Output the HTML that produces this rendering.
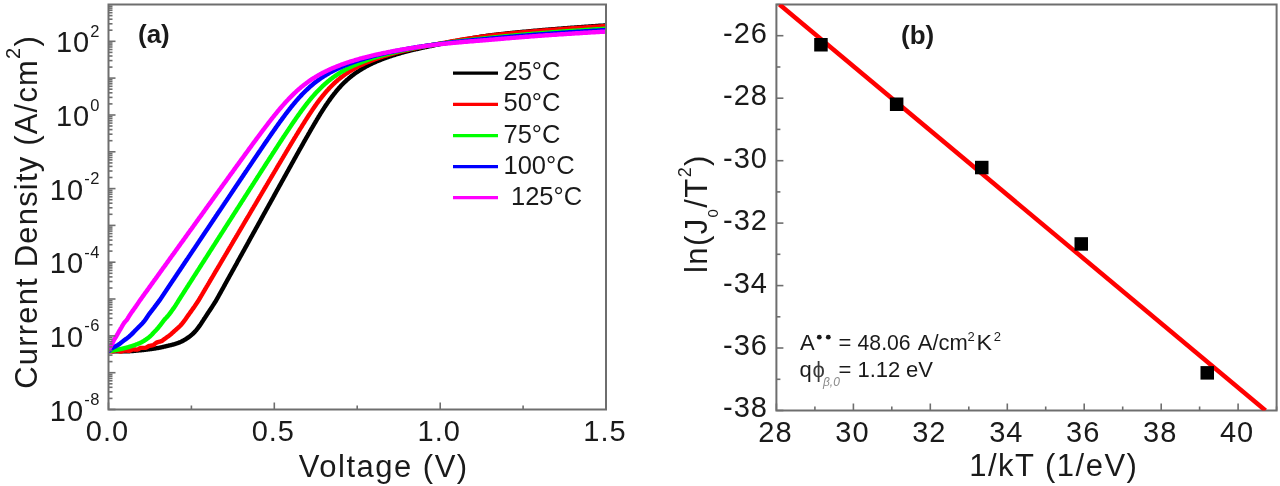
<!DOCTYPE html>
<html><head><meta charset="utf-8"><style>
html,body{margin:0;padding:0;background:#fff;}
svg{display:block;filter:blur(0.7px);}
text{font-family:'Liberation Sans',sans-serif;fill:#1a1a1a;}
</style></head><body>
<svg width="1280" height="486" viewBox="0 0 1280 486">
<rect width="1280" height="486" fill="#fff"/>
<defs><clipPath id="ca"><rect x="108.5" y="4.5" width="497.5" height="405.0"/></clipPath>
<clipPath id="cb"><rect x="776.4" y="4.5" width="500.19999999999993" height="406.0"/></clipPath></defs>
<g fill="none" stroke-width="4.4" stroke-linejoin="round" stroke-linecap="round" clip-path="url(#ca)"><path d="M109.0,351.0 L109.5,351.0 L110.0,351.1 L110.5,351.1 L111.0,351.1 L111.5,351.1 L112.0,351.1 L112.5,351.2 L113.0,351.2 L113.5,351.2 L114.0,351.2 L114.5,351.2 L115.0,351.3 L115.5,351.3 L116.0,351.3 L116.5,351.3 L117.0,351.3 L117.5,351.3 L118.0,351.3 L118.5,351.3 L119.0,351.3 L119.5,351.3 L120.0,351.3 L120.5,351.3 L121.0,351.3 L121.5,351.3 L122.0,351.3 L122.5,351.3 L123.0,351.3 L123.5,351.3 L124.0,351.3 L124.5,351.3 L125.0,351.3 L125.5,351.2 L126.0,351.2 L126.5,351.2 L127.0,351.2 L127.5,351.2 L128.0,351.2 L128.5,351.2 L129.0,351.2 L129.5,351.2 L130.0,351.2 L130.5,351.1 L131.0,351.1 L131.5,351.1 L132.0,351.0 L132.5,351.0 L133.0,351.0 L133.5,350.9 L134.0,350.9 L134.5,350.8 L135.0,350.8 L135.5,350.7 L136.0,350.7 L136.5,350.6 L137.0,350.6 L137.5,350.5 L138.0,350.5 L138.5,350.4 L139.0,350.4 L139.5,350.4 L140.0,350.3 L140.5,350.3 L141.0,350.2 L141.5,350.2 L142.0,350.1 L142.5,350.1 L143.0,350.0 L143.5,350.0 L144.0,349.9 L144.5,349.9 L145.0,349.8 L145.5,349.7 L146.0,349.7 L146.5,349.6 L147.0,349.6 L147.5,349.5 L148.0,349.4 L148.5,349.4 L149.0,349.3 L149.5,349.3 L150.0,349.2 L150.5,349.1 L151.0,349.1 L151.5,349.0 L152.0,348.9 L152.5,348.9 L153.0,348.8 L153.5,348.7 L154.0,348.6 L154.5,348.6 L155.0,348.5 L155.5,348.4 L156.0,348.3 L156.5,348.2 L157.0,348.1 L157.5,348.1 L158.0,348.0 L158.5,347.9 L159.0,347.8 L159.5,347.7 L160.0,347.6 L160.5,347.5 L161.0,347.4 L161.5,347.3 L162.0,347.2 L162.5,347.1 L163.0,347.0 L163.5,346.8 L164.0,346.7 L164.5,346.6 L165.0,346.5 L165.5,346.4 L166.0,346.2 L166.5,346.1 L167.0,346.0 L167.5,345.9 L168.0,345.8 L168.5,345.7 L169.0,345.5 L169.5,345.4 L170.0,345.3 L170.5,345.2 L171.0,345.1 L171.5,345.0 L172.0,344.8 L172.5,344.7 L173.0,344.6 L173.5,344.4 L174.0,344.3 L174.5,344.2 L175.0,344.0 L175.5,343.8 L176.0,343.7 L176.5,343.5 L177.0,343.3 L177.5,343.2 L178.0,343.0 L178.5,342.8 L179.0,342.6 L179.5,342.4 L180.0,342.2 L180.5,342.0 L181.0,341.8 L181.5,341.5 L182.0,341.3 L182.5,341.0 L183.0,340.7 L183.5,340.5 L184.0,340.2 L184.5,339.9 L185.0,339.6 L185.5,339.3 L186.0,339.0 L186.5,338.7 L187.0,338.4 L187.5,338.0 L188.0,337.7 L188.5,337.3 L189.0,337.0 L189.5,336.6 L190.0,336.2 L190.5,335.8 L191.0,335.4 L191.5,335.0 L192.0,334.5 L192.5,334.1 L193.0,333.6 L193.5,333.1 L194.0,332.6 L194.5,332.1 L195.0,331.6 L195.5,331.0 L196.0,330.5 L196.5,329.9 L197.0,329.2 L197.5,328.6 L198.0,328.0 L198.5,327.3 L199.0,326.6 L199.5,325.9 L200.0,325.2 L200.5,324.5 L201.0,323.7 L201.5,323.0 L202.0,322.2 L202.5,321.4 L203.0,320.7 L203.5,319.9 L204.0,319.1 L204.5,318.4 L205.0,317.6 L205.5,316.8 L206.0,316.1 L206.5,315.3 L207.0,314.5 L207.5,313.8 L208.0,313.0 L208.5,312.2 L209.0,311.5 L209.5,310.8 L210.0,310.0 L210.5,309.3 L211.0,308.5 L211.5,307.7 L212.0,307.0 L212.5,306.2 L213.0,305.4 L213.5,304.6 L214.0,303.8 L214.5,303.0 L215.0,302.3 L215.5,301.5 L216.0,300.7 L216.5,299.8 L217.0,298.9 L217.5,298.0 L218.0,297.1 L218.5,296.2 L219.0,295.3 L219.5,294.4 L220.0,293.5 L220.5,292.6 L221.0,291.7 L221.5,290.8 L222.0,289.9 L222.5,289.0 L223.0,288.1 L223.5,287.2 L224.0,286.3 L224.5,285.4 L225.0,284.4 L225.5,283.5 L226.0,282.6 L226.5,281.7 L227.0,280.8 L227.5,279.9 L228.0,279.0 L228.5,278.1 L229.0,277.2 L229.5,276.3 L230.0,275.4 L230.5,274.5 L231.0,273.6 L231.5,272.7 L232.0,271.8 L232.5,270.9 L233.0,270.0 L233.5,269.1 L234.0,268.2 L234.5,267.3 L235.0,266.4 L235.5,265.5 L236.0,264.6 L236.5,263.7 L237.0,262.7 L237.5,261.8 L238.0,260.9 L238.5,260.0 L239.0,259.1 L239.5,258.2 L240.0,257.3 L240.5,256.4 L241.0,255.5 L241.5,254.6 L242.0,253.7 L242.5,252.8 L243.0,251.9 L243.5,251.0 L244.0,250.1 L244.5,249.2 L245.0,248.3 L245.5,247.4 L246.0,246.5 L246.5,245.6 L247.0,244.7 L247.5,243.8 L248.0,242.9 L248.5,242.0 L249.0,241.0 L249.5,240.1 L250.0,239.2 L250.5,238.3 L251.0,237.4 L251.5,236.5 L252.0,235.6 L252.5,234.7 L253.0,233.8 L253.5,232.9 L254.0,232.0 L254.5,231.1 L255.0,230.2 L255.5,229.3 L256.0,228.4 L256.5,227.5 L257.0,226.6 L257.5,225.7 L258.0,224.8 L258.5,223.9 L259.0,223.0 L259.5,222.1 L260.0,221.2 L260.5,220.3 L261.0,219.4 L261.5,218.4 L262.0,217.5 L262.5,216.6 L263.0,215.7 L263.5,214.8 L264.0,213.9 L264.5,213.0 L265.0,212.1 L265.5,211.2 L266.0,210.3 L266.5,209.4 L267.0,208.5 L267.5,207.6 L268.0,206.7 L268.5,205.8 L269.0,204.9 L269.5,204.0 L270.0,203.1 L270.5,202.2 L271.0,201.3 L271.5,200.4 L272.0,199.5 L272.5,198.6 L273.0,197.7 L273.5,196.8 L274.0,195.9 L274.5,194.9 L275.0,194.0 L275.5,193.1 L276.0,192.2 L276.5,191.3 L277.0,190.4 L277.5,189.5 L278.0,188.6 L278.5,187.7 L279.0,186.8 L279.5,185.9 L280.0,185.0 L280.5,184.1 L281.0,183.2 L281.5,182.3 L282.0,181.4 L282.5,180.5 L283.0,179.6 L283.5,178.7 L284.0,177.8 L284.5,176.9 L285.0,176.0 L285.5,175.1 L286.0,174.2 L286.5,173.3 L287.0,172.4 L287.5,171.5 L288.0,170.6 L288.5,169.7 L289.0,168.8 L289.5,167.9 L290.0,167.0 L290.5,166.1 L291.0,165.2 L291.5,164.3 L292.0,163.4 L292.5,162.5 L293.0,161.6 L293.5,160.7 L294.0,159.8 L294.5,158.9 L295.0,158.0 L295.5,157.1 L296.0,156.2 L296.5,155.3 L297.0,154.4 L297.5,153.5 L298.0,152.6 L298.5,151.7 L299.0,150.8 L299.5,149.9 L300.0,149.0 L300.5,148.1 L301.0,147.3 L301.5,146.4 L302.0,145.5 L302.5,144.6 L303.0,143.7 L303.5,142.8 L304.0,141.9 L304.5,141.0 L305.0,140.2 L305.5,139.3 L306.0,138.4 L306.5,137.5 L307.0,136.6 L307.5,135.8 L308.0,134.9 L308.5,134.0 L309.0,133.1 L309.5,132.3 L310.0,131.4 L310.5,130.5 L311.0,129.7 L311.5,128.8 L312.0,127.9 L312.5,127.1 L313.0,126.2 L313.5,125.4 L314.0,124.5 L314.5,123.6 L315.0,122.8 L315.5,122.0 L316.0,121.1 L316.5,120.3 L317.0,119.4 L317.5,118.6 L318.0,117.8 L318.5,117.0 L319.0,116.1 L319.5,115.3 L320.0,114.5 L320.5,113.7 L321.0,112.9 L321.5,112.1 L322.0,111.3 L322.5,110.5 L323.0,109.7 L323.5,109.0 L324.0,108.2 L324.5,107.4 L325.0,106.6 L325.5,105.9 L326.0,105.1 L326.5,104.4 L327.0,103.7 L327.5,102.9 L328.0,102.2 L328.5,101.5 L329.0,100.8 L329.5,100.1 L330.0,99.4 L331.0,98.0 L332.0,96.6 L333.0,95.3 L334.0,94.0 L335.0,92.8 L336.0,91.5 L337.0,90.3 L338.0,89.2 L339.0,88.0 L340.0,86.9 L341.0,85.8 L342.0,84.8 L343.0,83.8 L344.0,82.8 L345.0,81.8 L346.0,80.9 L347.0,79.9 L348.0,79.1 L349.0,78.2 L350.0,77.4 L351.0,76.5 L352.0,75.7 L353.0,75.0 L354.0,74.2 L355.0,73.5 L356.0,72.8 L357.0,72.1 L358.0,71.4 L359.0,70.8 L360.0,70.1 L361.0,69.5 L362.0,68.9 L363.0,68.3 L364.0,67.7 L365.0,67.2 L366.0,66.6 L367.0,66.1 L368.0,65.5 L369.0,65.0 L370.0,64.5 L371.0,64.0 L372.0,63.6 L373.0,63.1 L374.0,62.6 L375.0,62.2 L376.0,61.7 L377.0,61.3 L378.0,60.9 L379.0,60.5 L380.0,60.1 L381.0,59.7 L382.0,59.3 L383.0,58.9 L384.0,58.5 L385.0,58.1 L386.0,57.8 L387.0,57.4 L388.0,57.1 L389.0,56.7 L390.0,56.4 L391.0,56.1 L392.0,55.7 L393.0,55.4 L394.0,55.1 L395.0,54.8 L396.0,54.5 L397.0,54.2 L398.0,53.9 L399.0,53.6 L400.0,53.3 L401.0,53.0 L402.0,52.7 L403.0,52.5 L404.0,52.2 L405.0,51.9 L406.0,51.7 L407.0,51.4 L408.0,51.2 L409.0,50.9 L410.0,50.6 L411.0,50.4 L412.0,50.2 L413.0,49.9 L414.0,49.7 L415.0,49.5 L416.0,49.2 L417.0,49.0 L418.0,48.8 L419.0,48.5 L420.0,48.3 L421.0,48.1 L422.0,47.9 L423.0,47.7 L424.0,47.5 L425.0,47.2 L426.0,47.0 L427.0,46.8 L428.0,46.6 L429.0,46.4 L430.0,46.2 L431.0,46.0 L432.0,45.8 L433.0,45.6 L434.0,45.3 L435.0,45.1 L436.0,44.9 L437.0,44.7 L438.0,44.5 L439.0,44.3 L440.0,44.1 L441.0,43.9 L442.0,43.7 L443.0,43.5 L444.0,43.3 L445.0,43.1 L446.0,42.9 L447.0,42.7 L448.0,42.5 L449.0,42.3 L450.0,42.1 L451.0,41.9 L452.0,41.7 L453.0,41.5 L454.0,41.3 L455.0,41.2 L456.0,41.0 L457.0,40.8 L458.0,40.6 L459.0,40.4 L460.0,40.2 L461.0,40.0 L462.0,39.9 L463.0,39.7 L464.0,39.5 L465.0,39.3 L466.0,39.1 L467.0,39.0 L468.0,38.8 L469.0,38.6 L470.0,38.5 L471.0,38.3 L472.0,38.1 L473.0,37.9 L474.0,37.8 L475.0,37.6 L476.0,37.5 L477.0,37.3 L478.0,37.1 L479.0,37.0 L480.0,36.8 L481.0,36.7 L482.0,36.5 L483.0,36.4 L484.0,36.2 L485.0,36.1 L486.0,35.9 L487.0,35.8 L488.0,35.7 L489.0,35.5 L490.0,35.4 L491.0,35.3 L492.0,35.1 L493.0,35.0 L494.0,34.9 L495.0,34.8 L496.0,34.6 L497.0,34.5 L498.0,34.4 L499.0,34.3 L500.0,34.2 L501.0,34.1 L502.0,34.0 L503.0,33.9 L504.0,33.8 L505.0,33.6 L506.0,33.5 L507.0,33.4 L508.0,33.3 L509.0,33.2 L510.0,33.1 L511.0,33.0 L512.0,32.9 L513.0,32.8 L514.0,32.7 L515.0,32.6 L516.0,32.5 L517.0,32.4 L518.0,32.3 L519.0,32.2 L520.0,32.1 L521.0,32.0 L522.0,31.9 L523.0,31.8 L524.0,31.8 L525.0,31.7 L526.0,31.6 L527.0,31.5 L528.0,31.4 L529.0,31.3 L530.0,31.2 L531.0,31.1 L532.0,31.0 L533.0,30.9 L534.0,30.8 L535.0,30.7 L536.0,30.7 L537.0,30.6 L538.0,30.5 L539.0,30.4 L540.0,30.3 L541.0,30.2 L542.0,30.1 L543.0,30.0 L544.0,30.0 L545.0,29.9 L546.0,29.8 L547.0,29.7 L548.0,29.6 L549.0,29.5 L550.0,29.5 L551.0,29.4 L552.0,29.3 L553.0,29.2 L554.0,29.1 L555.0,29.1 L556.0,29.0 L557.0,28.9 L558.0,28.8 L559.0,28.7 L560.0,28.7 L561.0,28.6 L562.0,28.5 L563.0,28.4 L564.0,28.3 L565.0,28.3 L566.0,28.2 L567.0,28.1 L568.0,28.0 L569.0,28.0 L570.0,27.9 L571.0,27.8 L572.0,27.7 L573.0,27.7 L574.0,27.6 L575.0,27.5 L576.0,27.4 L577.0,27.4 L578.0,27.3 L579.0,27.2 L580.0,27.2 L581.0,27.1 L582.0,27.0 L583.0,26.9 L584.0,26.9 L585.0,26.8 L586.0,26.7 L587.0,26.7 L588.0,26.6 L589.0,26.5 L590.0,26.5 L591.0,26.4 L592.0,26.3 L593.0,26.2 L594.0,26.2 L595.0,26.1 L596.0,26.0 L597.0,26.0 L598.0,25.9 L599.0,25.8 L600.0,25.8 L601.0,25.7 L602.0,25.6 L603.0,25.6 L604.0,25.5 L605.0,25.5 L606.0,25.4 L607.0,25.3 L608.0,25.3 L609.0,25.2 L610.0,25.1 L611.0,25.1" stroke="#000"/><path d="M109.0,351.0 L109.5,351.1 L110.0,351.1 L110.5,351.2 L111.0,351.2 L111.5,351.2 L112.0,351.2 L112.5,351.2 L113.0,351.2 L113.5,351.2 L114.0,351.1 L114.5,351.0 L115.0,350.9 L115.5,350.8 L116.0,350.7 L116.5,350.6 L117.0,350.6 L117.5,350.6 L118.0,350.7 L118.5,350.9 L119.0,351.0 L119.5,351.2 L120.0,351.4 L120.5,351.5 L121.0,351.5 L121.5,351.5 L122.0,351.3 L122.5,351.2 L123.0,350.9 L123.5,350.7 L124.0,350.6 L124.5,350.4 L125.0,350.4 L125.5,350.4 L126.0,350.5 L126.5,350.6 L127.0,350.6 L127.5,350.7 L128.0,350.8 L128.5,350.9 L129.0,350.9 L129.5,350.8 L130.0,350.7 L130.5,350.4 L131.0,350.1 L131.5,349.9 L132.0,349.6 L132.5,349.5 L133.0,349.4 L133.5,349.4 L134.0,349.4 L134.5,349.5 L135.0,349.5 L135.5,349.5 L136.0,349.6 L136.5,349.6 L137.0,349.6 L137.5,349.5 L138.0,349.3 L138.5,349.1 L139.0,348.8 L139.5,348.4 L140.0,348.2 L140.5,348.0 L141.0,347.9 L141.5,347.9 L142.0,347.9 L142.5,347.9 L143.0,347.9 L143.5,347.9 L144.0,347.9 L144.5,347.9 L145.0,347.9 L145.5,347.8 L146.0,347.7 L146.5,347.4 L147.0,347.1 L147.5,346.8 L148.0,346.5 L148.5,346.2 L149.0,346.0 L149.5,345.9 L150.0,345.8 L150.5,345.7 L151.0,345.6 L151.5,345.5 L152.0,345.4 L152.5,345.3 L153.0,345.2 L153.5,345.0 L154.0,344.7 L154.5,344.3 L155.0,343.8 L155.5,343.4 L156.0,343.0 L156.5,342.7 L157.0,342.4 L157.5,342.2 L158.0,342.1 L158.5,342.0 L159.0,341.8 L159.5,341.7 L160.0,341.6 L160.5,341.5 L161.0,341.3 L161.5,341.1 L162.0,340.8 L162.5,340.5 L163.0,340.1 L163.5,339.7 L164.0,339.3 L164.5,339.0 L165.0,338.6 L165.5,338.3 L166.0,337.9 L166.5,337.6 L167.0,337.2 L167.5,336.9 L168.0,336.5 L168.5,336.1 L169.0,335.8 L169.5,335.4 L170.0,335.0 L170.5,334.6 L171.0,334.2 L171.5,333.7 L172.0,333.3 L172.5,332.8 L173.0,332.4 L173.5,331.9 L174.0,331.4 L174.5,331.0 L175.0,330.5 L175.5,330.1 L176.0,329.6 L176.5,329.2 L177.0,328.8 L177.5,328.3 L178.0,327.9 L178.5,327.4 L179.0,327.0 L179.5,326.5 L180.0,326.0 L180.5,325.5 L181.0,324.9 L181.5,324.4 L182.0,323.8 L182.5,323.1 L183.0,322.5 L183.5,321.9 L184.0,321.2 L184.5,320.5 L185.0,319.9 L185.5,319.2 L186.0,318.5 L186.5,317.8 L187.0,317.0 L187.5,316.3 L188.0,315.6 L188.5,314.9 L189.0,314.2 L189.5,313.5 L190.0,312.8 L190.5,312.1 L191.0,311.4 L191.5,310.7 L192.0,310.0 L192.5,309.3 L193.0,308.6 L193.5,307.9 L194.0,307.2 L194.5,306.5 L195.0,305.7 L195.5,305.0 L196.0,304.3 L196.5,303.5 L197.0,302.8 L197.5,302.0 L198.0,301.3 L198.5,300.5 L199.0,299.7 L199.5,298.8 L200.0,298.0 L200.5,297.1 L201.0,296.3 L201.5,295.4 L202.0,294.6 L202.5,293.7 L203.0,292.9 L203.5,292.0 L204.0,291.2 L204.5,290.3 L205.0,289.5 L205.5,288.6 L206.0,287.8 L206.5,286.9 L207.0,286.1 L207.5,285.3 L208.0,284.4 L208.5,283.6 L209.0,282.7 L209.5,281.9 L210.0,281.0 L210.5,280.2 L211.0,279.3 L211.5,278.5 L212.0,277.6 L212.5,276.8 L213.0,275.9 L213.5,275.1 L214.0,274.2 L214.5,273.4 L215.0,272.5 L215.5,271.7 L216.0,270.8 L216.5,270.0 L217.0,269.2 L217.5,268.3 L218.0,267.5 L218.5,266.6 L219.0,265.8 L219.5,264.9 L220.0,264.1 L220.5,263.2 L221.0,262.4 L221.5,261.5 L222.0,260.7 L222.5,259.8 L223.0,259.0 L223.5,258.1 L224.0,257.3 L224.5,256.4 L225.0,255.6 L225.5,254.7 L226.0,253.9 L226.5,253.1 L227.0,252.2 L227.5,251.4 L228.0,250.5 L228.5,249.7 L229.0,248.8 L229.5,248.0 L230.0,247.1 L230.5,246.3 L231.0,245.4 L231.5,244.6 L232.0,243.7 L232.5,242.9 L233.0,242.0 L233.5,241.2 L234.0,240.3 L234.5,239.5 L235.0,238.6 L235.5,237.8 L236.0,237.0 L236.5,236.1 L237.0,235.3 L237.5,234.4 L238.0,233.6 L238.5,232.7 L239.0,231.9 L239.5,231.0 L240.0,230.2 L240.5,229.3 L241.0,228.5 L241.5,227.6 L242.0,226.8 L242.5,225.9 L243.0,225.1 L243.5,224.2 L244.0,223.4 L244.5,222.5 L245.0,221.7 L245.5,220.8 L246.0,220.0 L246.5,219.2 L247.0,218.3 L247.5,217.5 L248.0,216.6 L248.5,215.8 L249.0,214.9 L249.5,214.1 L250.0,213.2 L250.5,212.4 L251.0,211.5 L251.5,210.7 L252.0,209.8 L252.5,209.0 L253.0,208.1 L253.5,207.3 L254.0,206.4 L254.5,205.6 L255.0,204.8 L255.5,203.9 L256.0,203.1 L256.5,202.2 L257.0,201.4 L257.5,200.5 L258.0,199.7 L258.5,198.8 L259.0,198.0 L259.5,197.1 L260.0,196.3 L260.5,195.4 L261.0,194.6 L261.5,193.7 L262.0,192.9 L262.5,192.0 L263.0,191.2 L263.5,190.4 L264.0,189.5 L264.5,188.7 L265.0,187.8 L265.5,187.0 L266.0,186.1 L266.5,185.3 L267.0,184.4 L267.5,183.6 L268.0,182.7 L268.5,181.9 L269.0,181.0 L269.5,180.2 L270.0,179.4 L270.5,178.5 L271.0,177.7 L271.5,176.8 L272.0,176.0 L272.5,175.1 L273.0,174.3 L273.5,173.4 L274.0,172.6 L274.5,171.7 L275.0,170.9 L275.5,170.1 L276.0,169.2 L276.5,168.4 L277.0,167.5 L277.5,166.7 L278.0,165.8 L278.5,165.0 L279.0,164.1 L279.5,163.3 L280.0,162.5 L280.5,161.6 L281.0,160.8 L281.5,159.9 L282.0,159.1 L282.5,158.3 L283.0,157.4 L283.5,156.6 L284.0,155.7 L284.5,154.9 L285.0,154.1 L285.5,153.2 L286.0,152.4 L286.5,151.5 L287.0,150.7 L287.5,149.9 L288.0,149.0 L288.5,148.2 L289.0,147.4 L289.5,146.5 L290.0,145.7 L290.5,144.8 L291.0,144.0 L291.5,143.2 L292.0,142.4 L292.5,141.5 L293.0,140.7 L293.5,139.9 L294.0,139.0 L294.5,138.2 L295.0,137.4 L295.5,136.6 L296.0,135.7 L296.5,134.9 L297.0,134.1 L297.5,133.3 L298.0,132.5 L298.5,131.6 L299.0,130.8 L299.5,130.0 L300.0,129.2 L300.5,128.4 L301.0,127.6 L301.5,126.8 L302.0,126.0 L302.5,125.2 L303.0,124.4 L303.5,123.6 L304.0,122.8 L304.5,122.0 L305.0,121.2 L305.5,120.4 L306.0,119.6 L306.5,118.8 L307.0,118.1 L307.5,117.3 L308.0,116.5 L308.5,115.8 L309.0,115.0 L309.5,114.2 L310.0,113.5 L310.5,112.7 L311.0,112.0 L311.5,111.2 L312.0,110.5 L312.5,109.7 L313.0,109.0 L313.5,108.3 L314.0,107.6 L314.5,106.8 L315.0,106.1 L315.5,105.4 L316.0,104.7 L316.5,104.0 L317.0,103.3 L317.5,102.6 L318.0,102.0 L318.5,101.3 L319.0,100.6 L319.5,100.0 L320.0,99.3 L320.5,98.6 L321.0,98.0 L321.5,97.4 L322.0,96.7 L322.5,96.1 L323.0,95.5 L323.5,94.9 L324.0,94.3 L324.5,93.7 L325.0,93.1 L325.5,92.5 L326.0,91.9 L326.5,91.3 L327.0,90.8 L327.5,90.2 L328.0,89.7 L328.5,89.1 L329.0,88.6 L329.5,88.0 L330.0,87.5 L331.0,86.5 L332.0,85.5 L333.0,84.5 L334.0,83.5 L335.0,82.6 L336.0,81.7 L337.0,80.8 L338.0,79.9 L339.0,79.1 L340.0,78.3 L341.0,77.5 L342.0,76.7 L343.0,76.0 L344.0,75.2 L345.0,74.5 L346.0,73.8 L347.0,73.1 L348.0,72.5 L349.0,71.8 L350.0,71.2 L351.0,70.6 L352.0,70.0 L353.0,69.4 L354.0,68.8 L355.0,68.2 L356.0,67.7 L357.0,67.2 L358.0,66.6 L359.0,66.1 L360.0,65.6 L361.0,65.1 L362.0,64.7 L363.0,64.2 L364.0,63.7 L365.0,63.3 L366.0,62.8 L367.0,62.4 L368.0,62.0 L369.0,61.6 L370.0,61.2 L371.0,60.8 L372.0,60.4 L373.0,60.0 L374.0,59.6 L375.0,59.2 L376.0,58.9 L377.0,58.5 L378.0,58.2 L379.0,57.8 L380.0,57.5 L381.0,57.2 L382.0,56.8 L383.0,56.5 L384.0,56.2 L385.0,55.9 L386.0,55.6 L387.0,55.3 L388.0,55.0 L389.0,54.7 L390.0,54.4 L391.0,54.1 L392.0,53.8 L393.0,53.5 L394.0,53.3 L395.0,53.0 L396.0,52.7 L397.0,52.5 L398.0,52.2 L399.0,52.0 L400.0,51.7 L401.0,51.5 L402.0,51.2 L403.0,51.0 L404.0,50.7 L405.0,50.5 L406.0,50.3 L407.0,50.1 L408.0,49.8 L409.0,49.6 L410.0,49.4 L411.0,49.2 L412.0,48.9 L413.0,48.7 L414.0,48.5 L415.0,48.3 L416.0,48.1 L417.0,47.9 L418.0,47.7 L419.0,47.5 L420.0,47.3 L421.0,47.1 L422.0,46.9 L423.0,46.7 L424.0,46.5 L425.0,46.3 L426.0,46.1 L427.0,45.9 L428.0,45.8 L429.0,45.6 L430.0,45.4 L431.0,45.2 L432.0,45.0 L433.0,44.8 L434.0,44.6 L435.0,44.4 L436.0,44.2 L437.0,44.1 L438.0,43.9 L439.0,43.7 L440.0,43.5 L441.0,43.3 L442.0,43.1 L443.0,43.0 L444.0,42.8 L445.0,42.6 L446.0,42.4 L447.0,42.2 L448.0,42.1 L449.0,41.9 L450.0,41.7 L451.0,41.5 L452.0,41.4 L453.0,41.2 L454.0,41.0 L455.0,40.9 L456.0,40.7 L457.0,40.5 L458.0,40.3 L459.0,40.2 L460.0,40.0 L461.0,39.8 L462.0,39.7 L463.0,39.5 L464.0,39.4 L465.0,39.2 L466.0,39.0 L467.0,38.9 L468.0,38.7 L469.0,38.6 L470.0,38.4 L471.0,38.3 L472.0,38.1 L473.0,38.0 L474.0,37.8 L475.0,37.7 L476.0,37.5 L477.0,37.4 L478.0,37.2 L479.0,37.1 L480.0,36.9 L481.0,36.8 L482.0,36.7 L483.0,36.5 L484.0,36.4 L485.0,36.3 L486.0,36.1 L487.0,36.0 L488.0,35.9 L489.0,35.7 L490.0,35.6 L491.0,35.5 L492.0,35.4 L493.0,35.3 L494.0,35.1 L495.0,35.0 L496.0,34.9 L497.0,34.8 L498.0,34.7 L499.0,34.6 L500.0,34.5 L501.0,34.4 L502.0,34.3 L503.0,34.2 L504.0,34.1 L505.0,34.0 L506.0,33.9 L507.0,33.8 L508.0,33.7 L509.0,33.6 L510.0,33.5 L511.0,33.4 L512.0,33.3 L513.0,33.2 L514.0,33.1 L515.0,33.0 L516.0,32.9 L517.0,32.8 L518.0,32.7 L519.0,32.6 L520.0,32.5 L521.0,32.4 L522.0,32.4 L523.0,32.3 L524.0,32.2 L525.0,32.1 L526.0,32.0 L527.0,31.9 L528.0,31.8 L529.0,31.7 L530.0,31.6 L531.0,31.6 L532.0,31.5 L533.0,31.4 L534.0,31.3 L535.0,31.2 L536.0,31.1 L537.0,31.0 L538.0,31.0 L539.0,30.9 L540.0,30.8 L541.0,30.7 L542.0,30.6 L543.0,30.5 L544.0,30.5 L545.0,30.4 L546.0,30.3 L547.0,30.2 L548.0,30.1 L549.0,30.1 L550.0,30.0 L551.0,29.9 L552.0,29.8 L553.0,29.7 L554.0,29.7 L555.0,29.6 L556.0,29.5 L557.0,29.4 L558.0,29.4 L559.0,29.3 L560.0,29.2 L561.0,29.1 L562.0,29.1 L563.0,29.0 L564.0,28.9 L565.0,28.8 L566.0,28.8 L567.0,28.7 L568.0,28.6 L569.0,28.5 L570.0,28.5 L571.0,28.4 L572.0,28.3 L573.0,28.3 L574.0,28.2 L575.0,28.1 L576.0,28.0 L577.0,28.0 L578.0,27.9 L579.0,27.8 L580.0,27.8 L581.0,27.7 L582.0,27.6 L583.0,27.6 L584.0,27.5 L585.0,27.4 L586.0,27.4 L587.0,27.3 L588.0,27.2 L589.0,27.2 L590.0,27.1 L591.0,27.0 L592.0,27.0 L593.0,26.9 L594.0,26.8 L595.0,26.8 L596.0,26.7 L597.0,26.6 L598.0,26.6 L599.0,26.5 L600.0,26.4 L601.0,26.4 L602.0,26.3 L603.0,26.2 L604.0,26.2 L605.0,26.1 L606.0,26.1 L607.0,26.0 L608.0,25.9 L609.0,25.9 L610.0,25.8 L611.0,25.8" stroke="#f00"/><path d="M109.0,351.0 L109.5,350.9 L110.0,350.9 L110.5,350.8 L111.0,350.8 L111.5,350.7 L112.0,350.6 L112.5,350.6 L113.0,350.5 L113.5,350.4 L114.0,350.3 L114.5,350.3 L115.0,350.2 L115.5,350.1 L116.0,350.0 L116.5,349.9 L117.0,349.8 L117.5,349.7 L118.0,349.6 L118.5,349.5 L119.0,349.4 L119.5,349.3 L120.0,349.2 L120.5,349.1 L121.0,349.0 L121.5,348.9 L122.0,348.8 L122.5,348.6 L123.0,348.5 L123.5,348.4 L124.0,348.3 L124.5,348.1 L125.0,348.0 L125.5,347.9 L126.0,347.8 L126.5,347.6 L127.0,347.5 L127.5,347.4 L128.0,347.2 L128.5,347.1 L129.0,346.9 L129.5,346.8 L130.0,346.6 L130.5,346.5 L131.0,346.3 L131.5,346.2 L132.0,346.0 L132.5,345.8 L133.0,345.7 L133.5,345.5 L134.0,345.3 L134.5,345.2 L135.0,345.0 L135.5,344.8 L136.0,344.6 L136.5,344.4 L137.0,344.2 L137.5,344.0 L138.0,343.8 L138.5,343.6 L139.0,343.4 L139.5,343.2 L140.0,343.0 L140.5,342.7 L141.0,342.5 L141.5,342.3 L142.0,342.0 L142.5,341.7 L143.0,341.4 L143.5,341.1 L144.0,340.8 L144.5,340.5 L145.0,340.2 L145.5,339.8 L146.0,339.5 L146.5,339.2 L147.0,338.8 L147.5,338.4 L148.0,338.1 L148.5,337.7 L149.0,337.3 L149.5,336.9 L150.0,336.4 L150.5,336.0 L151.0,335.5 L151.5,335.0 L152.0,334.5 L152.5,333.9 L153.0,333.4 L153.5,332.8 L154.0,332.3 L154.5,331.8 L155.0,331.3 L155.5,330.8 L156.0,330.2 L156.5,329.7 L157.0,329.1 L157.5,328.6 L158.0,328.0 L158.5,327.4 L159.0,326.7 L159.5,326.1 L160.0,325.5 L160.5,324.9 L161.0,324.2 L161.5,323.5 L162.0,322.9 L162.5,322.2 L163.0,321.5 L163.5,320.9 L164.0,320.2 L164.5,319.6 L165.0,319.1 L165.5,318.5 L166.0,318.0 L166.5,317.5 L167.0,316.9 L167.5,316.4 L168.0,315.8 L168.5,315.2 L169.0,314.6 L169.5,314.0 L170.0,313.3 L170.5,312.6 L171.0,311.9 L171.5,311.2 L172.0,310.5 L172.5,309.8 L173.0,309.1 L173.5,308.4 L174.0,307.7 L174.5,307.0 L175.0,306.2 L175.5,305.5 L176.0,304.7 L176.5,303.9 L177.0,303.1 L177.5,302.3 L178.0,301.5 L178.5,300.6 L179.0,299.8 L179.5,299.1 L180.0,298.3 L180.5,297.5 L181.0,296.7 L181.5,295.9 L182.0,295.2 L182.5,294.4 L183.0,293.6 L183.5,292.8 L184.0,292.0 L184.5,291.3 L185.0,290.5 L185.5,289.7 L186.0,288.9 L186.5,288.1 L187.0,287.3 L187.5,286.6 L188.0,285.8 L188.5,285.0 L189.0,284.2 L189.5,283.4 L190.0,282.7 L190.5,281.9 L191.0,281.1 L191.5,280.3 L192.0,279.5 L192.5,278.8 L193.0,278.0 L193.5,277.2 L194.0,276.4 L194.5,275.6 L195.0,274.8 L195.5,274.1 L196.0,273.3 L196.5,272.5 L197.0,271.7 L197.5,270.9 L198.0,270.2 L198.5,269.4 L199.0,268.6 L199.5,267.8 L200.0,267.0 L200.5,266.3 L201.0,265.5 L201.5,264.7 L202.0,263.9 L202.5,263.1 L203.0,262.3 L203.5,261.6 L204.0,260.8 L204.5,260.0 L205.0,259.2 L205.5,258.4 L206.0,257.7 L206.5,256.9 L207.0,256.1 L207.5,255.3 L208.0,254.5 L208.5,253.8 L209.0,253.0 L209.5,252.2 L210.0,251.4 L210.5,250.6 L211.0,249.8 L211.5,249.1 L212.0,248.3 L212.5,247.5 L213.0,246.7 L213.5,245.9 L214.0,245.2 L214.5,244.4 L215.0,243.6 L215.5,242.8 L216.0,242.0 L216.5,241.3 L217.0,240.5 L217.5,239.7 L218.0,238.9 L218.5,238.1 L219.0,237.3 L219.5,236.6 L220.0,235.8 L220.5,235.0 L221.0,234.2 L221.5,233.4 L222.0,232.7 L222.5,231.9 L223.0,231.1 L223.5,230.3 L224.0,229.5 L224.5,228.8 L225.0,228.0 L225.5,227.2 L226.0,226.4 L226.5,225.6 L227.0,224.8 L227.5,224.1 L228.0,223.3 L228.5,222.5 L229.0,221.7 L229.5,220.9 L230.0,220.2 L230.5,219.4 L231.0,218.6 L231.5,217.8 L232.0,217.0 L232.5,216.3 L233.0,215.5 L233.5,214.7 L234.0,213.9 L234.5,213.1 L235.0,212.3 L235.5,211.6 L236.0,210.8 L236.5,210.0 L237.0,209.2 L237.5,208.4 L238.0,207.7 L238.5,206.9 L239.0,206.1 L239.5,205.3 L240.0,204.5 L240.5,203.8 L241.0,203.0 L241.5,202.2 L242.0,201.4 L242.5,200.6 L243.0,199.9 L243.5,199.1 L244.0,198.3 L244.5,197.5 L245.0,196.7 L245.5,195.9 L246.0,195.2 L246.5,194.4 L247.0,193.6 L247.5,192.8 L248.0,192.0 L248.5,191.3 L249.0,190.5 L249.5,189.7 L250.0,188.9 L250.5,188.1 L251.0,187.4 L251.5,186.6 L252.0,185.8 L252.5,185.0 L253.0,184.2 L253.5,183.5 L254.0,182.7 L254.5,181.9 L255.0,181.1 L255.5,180.3 L256.0,179.6 L256.5,178.8 L257.0,178.0 L257.5,177.2 L258.0,176.4 L258.5,175.7 L259.0,174.9 L259.5,174.1 L260.0,173.3 L260.5,172.5 L261.0,171.8 L261.5,171.0 L262.0,170.2 L262.5,169.4 L263.0,168.7 L263.5,167.9 L264.0,167.1 L264.5,166.3 L265.0,165.5 L265.5,164.8 L266.0,164.0 L266.5,163.2 L267.0,162.4 L267.5,161.7 L268.0,160.9 L268.5,160.1 L269.0,159.3 L269.5,158.6 L270.0,157.8 L270.5,157.0 L271.0,156.2 L271.5,155.5 L272.0,154.7 L272.5,153.9 L273.0,153.1 L273.5,152.4 L274.0,151.6 L274.5,150.8 L275.0,150.0 L275.5,149.3 L276.0,148.5 L276.5,147.7 L277.0,147.0 L277.5,146.2 L278.0,145.4 L278.5,144.6 L279.0,143.9 L279.5,143.1 L280.0,142.3 L280.5,141.6 L281.0,140.8 L281.5,140.1 L282.0,139.3 L282.5,138.5 L283.0,137.8 L283.5,137.0 L284.0,136.2 L284.5,135.5 L285.0,134.7 L285.5,134.0 L286.0,133.2 L286.5,132.5 L287.0,131.7 L287.5,131.0 L288.0,130.2 L288.5,129.5 L289.0,128.7 L289.5,128.0 L290.0,127.2 L290.5,126.5 L291.0,125.7 L291.5,125.0 L292.0,124.3 L292.5,123.5 L293.0,122.8 L293.5,122.1 L294.0,121.3 L294.5,120.6 L295.0,119.9 L295.5,119.2 L296.0,118.4 L296.5,117.7 L297.0,117.0 L297.5,116.3 L298.0,115.6 L298.5,114.9 L299.0,114.2 L299.5,113.5 L300.0,112.8 L300.5,112.1 L301.0,111.4 L301.5,110.7 L302.0,110.0 L302.5,109.4 L303.0,108.7 L303.5,108.0 L304.0,107.4 L304.5,106.7 L305.0,106.0 L305.5,105.4 L306.0,104.7 L306.5,104.1 L307.0,103.5 L307.5,102.8 L308.0,102.2 L308.5,101.6 L309.0,100.9 L309.5,100.3 L310.0,99.7 L310.5,99.1 L311.0,98.5 L311.5,97.9 L312.0,97.3 L312.5,96.7 L313.0,96.2 L313.5,95.6 L314.0,95.0 L314.5,94.5 L315.0,93.9 L315.5,93.4 L316.0,92.8 L316.5,92.3 L317.0,91.7 L317.5,91.2 L318.0,90.7 L318.5,90.2 L319.0,89.7 L319.5,89.2 L320.0,88.7 L320.5,88.2 L321.0,87.7 L321.5,87.2 L322.0,86.7 L322.5,86.2 L323.0,85.8 L323.5,85.3 L324.0,84.9 L324.5,84.4 L325.0,84.0 L325.5,83.5 L326.0,83.1 L326.5,82.7 L327.0,82.2 L327.5,81.8 L328.0,81.4 L328.5,81.0 L329.0,80.6 L329.5,80.2 L330.0,79.8 L331.0,79.0 L332.0,78.3 L333.0,77.5 L334.0,76.8 L335.0,76.1 L336.0,75.4 L337.0,74.7 L338.0,74.1 L339.0,73.5 L340.0,72.8 L341.0,72.2 L342.0,71.6 L343.0,71.0 L344.0,70.5 L345.0,69.9 L346.0,69.4 L347.0,68.8 L348.0,68.3 L349.0,67.8 L350.0,67.3 L351.0,66.8 L352.0,66.4 L353.0,65.9 L354.0,65.4 L355.0,65.0 L356.0,64.5 L357.0,64.1 L358.0,63.7 L359.0,63.3 L360.0,62.9 L361.0,62.5 L362.0,62.1 L363.0,61.7 L364.0,61.3 L365.0,60.9 L366.0,60.6 L367.0,60.2 L368.0,59.8 L369.0,59.5 L370.0,59.2 L371.0,58.8 L372.0,58.5 L373.0,58.2 L374.0,57.8 L375.0,57.5 L376.0,57.2 L377.0,56.9 L378.0,56.6 L379.0,56.3 L380.0,56.0 L381.0,55.7 L382.0,55.5 L383.0,55.2 L384.0,54.9 L385.0,54.6 L386.0,54.4 L387.0,54.1 L388.0,53.8 L389.0,53.6 L390.0,53.3 L391.0,53.1 L392.0,52.8 L393.0,52.6 L394.0,52.3 L395.0,52.1 L396.0,51.9 L397.0,51.6 L398.0,51.4 L399.0,51.2 L400.0,51.0 L401.0,50.7 L402.0,50.5 L403.0,50.3 L404.0,50.1 L405.0,49.9 L406.0,49.7 L407.0,49.5 L408.0,49.3 L409.0,49.1 L410.0,48.9 L411.0,48.7 L412.0,48.5 L413.0,48.3 L414.0,48.1 L415.0,47.9 L416.0,47.7 L417.0,47.5 L418.0,47.3 L419.0,47.2 L420.0,47.0 L421.0,46.8 L422.0,46.6 L423.0,46.5 L424.0,46.3 L425.0,46.1 L426.0,45.9 L427.0,45.8 L428.0,45.6 L429.0,45.5 L430.0,45.3 L431.0,45.1 L432.0,45.0 L433.0,44.8 L434.0,44.7 L435.0,44.5 L436.0,44.4 L437.0,44.2 L438.0,44.1 L439.0,43.9 L440.0,43.8 L441.0,43.6 L442.0,43.5 L443.0,43.3 L444.0,43.2 L445.0,43.1 L446.0,42.9 L447.0,42.8 L448.0,42.7 L449.0,42.5 L450.0,42.4 L451.0,42.3 L452.0,42.1 L453.0,42.0 L454.0,41.9 L455.0,41.7 L456.0,41.6 L457.0,41.5 L458.0,41.4 L459.0,41.2 L460.0,41.1 L461.0,41.0 L462.0,40.9 L463.0,40.8 L464.0,40.6 L465.0,40.5 L466.0,40.4 L467.0,40.3 L468.0,40.2 L469.0,40.1 L470.0,40.0 L471.0,39.8 L472.0,39.7 L473.0,39.6 L474.0,39.5 L475.0,39.4 L476.0,39.3 L477.0,39.2 L478.0,39.1 L479.0,39.0 L480.0,38.9 L481.0,38.7 L482.0,38.6 L483.0,38.5 L484.0,38.4 L485.0,38.3 L486.0,38.2 L487.0,38.1 L488.0,38.0 L489.0,37.9 L490.0,37.8 L491.0,37.7 L492.0,37.6 L493.0,37.5 L494.0,37.4 L495.0,37.3 L496.0,37.2 L497.0,37.1 L498.0,37.0 L499.0,36.9 L500.0,36.8 L501.0,36.7 L502.0,36.6 L503.0,36.5 L504.0,36.4 L505.0,36.3 L506.0,36.2 L507.0,36.1 L508.0,36.0 L509.0,36.0 L510.0,35.9 L511.0,35.8 L512.0,35.7 L513.0,35.6 L514.0,35.5 L515.0,35.4 L516.0,35.3 L517.0,35.2 L518.0,35.1 L519.0,35.0 L520.0,35.0 L521.0,34.9 L522.0,34.8 L523.0,34.7 L524.0,34.6 L525.0,34.5 L526.0,34.4 L527.0,34.3 L528.0,34.3 L529.0,34.2 L530.0,34.1 L531.0,34.0 L532.0,33.9 L533.0,33.8 L534.0,33.8 L535.0,33.7 L536.0,33.6 L537.0,33.5 L538.0,33.4 L539.0,33.4 L540.0,33.3 L541.0,33.2 L542.0,33.1 L543.0,33.0 L544.0,33.0 L545.0,32.9 L546.0,32.8 L547.0,32.7 L548.0,32.7 L549.0,32.6 L550.0,32.5 L551.0,32.4 L552.0,32.3 L553.0,32.3 L554.0,32.2 L555.0,32.1 L556.0,32.0 L557.0,32.0 L558.0,31.9 L559.0,31.8 L560.0,31.8 L561.0,31.7 L562.0,31.6 L563.0,31.5 L564.0,31.5 L565.0,31.4 L566.0,31.3 L567.0,31.3 L568.0,31.2 L569.0,31.1 L570.0,31.0 L571.0,31.0 L572.0,30.9 L573.0,30.8 L574.0,30.8 L575.0,30.7 L576.0,30.6 L577.0,30.6 L578.0,30.5 L579.0,30.4 L580.0,30.4 L581.0,30.3 L582.0,30.2 L583.0,30.2 L584.0,30.1 L585.0,30.0 L586.0,30.0 L587.0,29.9 L588.0,29.8 L589.0,29.8 L590.0,29.7 L591.0,29.6 L592.0,29.6 L593.0,29.5 L594.0,29.4 L595.0,29.4 L596.0,29.3 L597.0,29.3 L598.0,29.2 L599.0,29.1 L600.0,29.1 L601.0,29.0 L602.0,28.9 L603.0,28.9 L604.0,28.8 L605.0,28.8 L606.0,28.7 L607.0,28.6 L608.0,28.6 L609.0,28.5 L610.0,28.5 L611.0,28.4" stroke="#0f0"/><path d="M109.0,351.0 L109.5,350.5 L110.0,350.0 L110.5,349.5 L111.0,349.1 L111.5,348.7 L112.0,348.3 L112.5,348.0 L113.0,347.6 L113.5,347.3 L114.0,347.1 L114.5,346.8 L115.0,346.6 L115.5,346.3 L116.0,346.1 L116.5,345.8 L117.0,345.5 L117.5,345.3 L118.0,345.0 L118.5,344.7 L119.0,344.3 L119.5,344.0 L120.0,343.6 L120.5,343.2 L121.0,342.8 L121.5,342.4 L122.0,342.0 L122.5,341.6 L123.0,341.2 L123.5,340.8 L124.0,340.4 L124.5,340.1 L125.0,339.7 L125.5,339.3 L126.0,339.0 L126.5,338.6 L127.0,338.3 L127.5,337.9 L128.0,337.5 L128.5,337.1 L129.0,336.7 L129.5,336.2 L130.0,335.8 L130.5,335.3 L131.0,334.9 L131.5,334.4 L132.0,333.9 L132.5,333.4 L133.0,332.9 L133.5,332.4 L134.0,331.8 L134.5,331.3 L135.0,330.8 L135.5,330.2 L136.0,329.7 L136.5,329.2 L137.0,328.7 L137.5,328.2 L138.0,327.7 L138.5,327.3 L139.0,326.8 L139.5,326.3 L140.0,325.8 L140.5,325.3 L141.0,324.8 L141.5,324.3 L142.0,323.7 L142.5,323.2 L143.0,322.6 L143.5,322.0 L144.0,321.4 L144.5,320.8 L145.0,320.2 L145.5,319.5 L146.0,318.8 L146.5,318.0 L147.0,317.3 L147.5,316.5 L148.0,315.7 L148.5,315.0 L149.0,314.3 L149.5,313.6 L150.0,313.0 L150.5,312.3 L151.0,311.7 L151.5,311.0 L152.0,310.4 L152.5,309.7 L153.0,309.1 L153.5,308.4 L154.0,307.8 L154.5,307.1 L155.0,306.5 L155.5,305.8 L156.0,305.1 L156.5,304.5 L157.0,303.8 L157.5,303.1 L158.0,302.5 L158.5,301.8 L159.0,301.1 L159.5,300.4 L160.0,299.7 L160.5,299.0 L161.0,298.2 L161.5,297.5 L162.0,296.7 L162.5,296.0 L163.0,295.2 L163.5,294.5 L164.0,293.7 L164.5,293.0 L165.0,292.2 L165.5,291.5 L166.0,290.7 L166.5,290.0 L167.0,289.3 L167.5,288.5 L168.0,287.8 L168.5,287.0 L169.0,286.3 L169.5,285.5 L170.0,284.8 L170.5,284.0 L171.0,283.3 L171.5,282.5 L172.0,281.8 L172.5,281.0 L173.0,280.3 L173.5,279.6 L174.0,278.8 L174.5,278.1 L175.0,277.3 L175.5,276.6 L176.0,275.8 L176.5,275.1 L177.0,274.3 L177.5,273.6 L178.0,272.8 L178.5,272.1 L179.0,271.3 L179.5,270.6 L180.0,269.9 L180.5,269.1 L181.0,268.4 L181.5,267.6 L182.0,266.9 L182.5,266.1 L183.0,265.4 L183.5,264.6 L184.0,263.9 L184.5,263.1 L185.0,262.4 L185.5,261.6 L186.0,260.9 L186.5,260.1 L187.0,259.4 L187.5,258.7 L188.0,257.9 L188.5,257.2 L189.0,256.4 L189.5,255.7 L190.0,254.9 L190.5,254.2 L191.0,253.4 L191.5,252.7 L192.0,251.9 L192.5,251.2 L193.0,250.4 L193.5,249.7 L194.0,249.0 L194.5,248.2 L195.0,247.5 L195.5,246.7 L196.0,246.0 L196.5,245.2 L197.0,244.5 L197.5,243.7 L198.0,243.0 L198.5,242.2 L199.0,241.5 L199.5,240.7 L200.0,240.0 L200.5,239.3 L201.0,238.5 L201.5,237.8 L202.0,237.0 L202.5,236.3 L203.0,235.5 L203.5,234.8 L204.0,234.0 L204.5,233.3 L205.0,232.5 L205.5,231.8 L206.0,231.0 L206.5,230.3 L207.0,229.6 L207.5,228.8 L208.0,228.1 L208.5,227.3 L209.0,226.6 L209.5,225.8 L210.0,225.1 L210.5,224.3 L211.0,223.6 L211.5,222.8 L212.0,222.1 L212.5,221.3 L213.0,220.6 L213.5,219.9 L214.0,219.1 L214.5,218.4 L215.0,217.6 L215.5,216.9 L216.0,216.1 L216.5,215.4 L217.0,214.6 L217.5,213.9 L218.0,213.1 L218.5,212.4 L219.0,211.6 L219.5,210.9 L220.0,210.2 L220.5,209.4 L221.0,208.7 L221.5,207.9 L222.0,207.2 L222.5,206.4 L223.0,205.7 L223.5,204.9 L224.0,204.2 L224.5,203.4 L225.0,202.7 L225.5,201.9 L226.0,201.2 L226.5,200.5 L227.0,199.7 L227.5,199.0 L228.0,198.2 L228.5,197.5 L229.0,196.7 L229.5,196.0 L230.0,195.2 L230.5,194.5 L231.0,193.7 L231.5,193.0 L232.0,192.3 L232.5,191.5 L233.0,190.8 L233.5,190.0 L234.0,189.3 L234.5,188.5 L235.0,187.8 L235.5,187.0 L236.0,186.3 L236.5,185.5 L237.0,184.8 L237.5,184.1 L238.0,183.3 L238.5,182.6 L239.0,181.8 L239.5,181.1 L240.0,180.3 L240.5,179.6 L241.0,178.8 L241.5,178.1 L242.0,177.4 L242.5,176.6 L243.0,175.9 L243.5,175.1 L244.0,174.4 L244.5,173.6 L245.0,172.9 L245.5,172.1 L246.0,171.4 L246.5,170.7 L247.0,169.9 L247.5,169.2 L248.0,168.4 L248.5,167.7 L249.0,166.9 L249.5,166.2 L250.0,165.5 L250.5,164.7 L251.0,164.0 L251.5,163.2 L252.0,162.5 L252.5,161.7 L253.0,161.0 L253.5,160.3 L254.0,159.5 L254.5,158.8 L255.0,158.0 L255.5,157.3 L256.0,156.6 L256.5,155.8 L257.0,155.1 L257.5,154.3 L258.0,153.6 L258.5,152.9 L259.0,152.1 L259.5,151.4 L260.0,150.7 L260.5,149.9 L261.0,149.2 L261.5,148.4 L262.0,147.7 L262.5,147.0 L263.0,146.2 L263.5,145.5 L264.0,144.8 L264.5,144.0 L265.0,143.3 L265.5,142.6 L266.0,141.8 L266.5,141.1 L267.0,140.4 L267.5,139.7 L268.0,138.9 L268.5,138.2 L269.0,137.5 L269.5,136.8 L270.0,136.0 L270.5,135.3 L271.0,134.6 L271.5,133.9 L272.0,133.1 L272.5,132.4 L273.0,131.7 L273.5,131.0 L274.0,130.3 L274.5,129.6 L275.0,128.9 L275.5,128.1 L276.0,127.4 L276.5,126.7 L277.0,126.0 L277.5,125.3 L278.0,124.6 L278.5,123.9 L279.0,123.2 L279.5,122.5 L280.0,121.8 L280.5,121.1 L281.0,120.4 L281.5,119.8 L282.0,119.1 L282.5,118.4 L283.0,117.7 L283.5,117.0 L284.0,116.4 L284.5,115.7 L285.0,115.0 L285.5,114.3 L286.0,113.7 L286.5,113.0 L287.0,112.4 L287.5,111.7 L288.0,111.1 L288.5,110.4 L289.0,109.8 L289.5,109.1 L290.0,108.5 L290.5,107.9 L291.0,107.2 L291.5,106.6 L292.0,106.0 L292.5,105.4 L293.0,104.8 L293.5,104.2 L294.0,103.6 L294.5,103.0 L295.0,102.4 L295.5,101.8 L296.0,101.2 L296.5,100.6 L297.0,100.0 L297.5,99.5 L298.0,98.9 L298.5,98.3 L299.0,97.8 L299.5,97.2 L300.0,96.7 L300.5,96.1 L301.0,95.6 L301.5,95.1 L302.0,94.5 L302.5,94.0 L303.0,93.5 L303.5,93.0 L304.0,92.5 L304.5,92.0 L305.0,91.5 L305.5,91.0 L306.0,90.5 L306.5,90.0 L307.0,89.6 L307.5,89.1 L308.0,88.6 L308.5,88.2 L309.0,87.7 L309.5,87.3 L310.0,86.8 L310.5,86.4 L311.0,85.9 L311.5,85.5 L312.0,85.1 L312.5,84.7 L313.0,84.2 L313.5,83.8 L314.0,83.4 L314.5,83.0 L315.0,82.6 L315.5,82.2 L316.0,81.9 L316.5,81.5 L317.0,81.1 L317.5,80.7 L318.0,80.3 L318.5,80.0 L319.0,79.6 L319.5,79.3 L320.0,78.9 L320.5,78.6 L321.0,78.2 L321.5,77.9 L322.0,77.5 L322.5,77.2 L323.0,76.9 L323.5,76.6 L324.0,76.2 L324.5,75.9 L325.0,75.6 L325.5,75.3 L326.0,75.0 L326.5,74.7 L327.0,74.4 L327.5,74.1 L328.0,73.8 L328.5,73.5 L329.0,73.2 L329.5,72.9 L330.0,72.6 L331.0,72.1 L332.0,71.5 L333.0,71.0 L334.0,70.5 L335.0,70.0 L336.0,69.5 L337.0,69.0 L338.0,68.5 L339.0,68.1 L340.0,67.6 L341.0,67.2 L342.0,66.7 L343.0,66.3 L344.0,65.9 L345.0,65.4 L346.0,65.0 L347.0,64.6 L348.0,64.2 L349.0,63.8 L350.0,63.5 L351.0,63.1 L352.0,62.7 L353.0,62.4 L354.0,62.0 L355.0,61.7 L356.0,61.3 L357.0,61.0 L358.0,60.7 L359.0,60.3 L360.0,60.0 L361.0,59.7 L362.0,59.4 L363.0,59.1 L364.0,58.8 L365.0,58.5 L366.0,58.2 L367.0,57.9 L368.0,57.6 L369.0,57.3 L370.0,57.0 L371.0,56.8 L372.0,56.5 L373.0,56.2 L374.0,56.0 L375.0,55.7 L376.0,55.5 L377.0,55.2 L378.0,55.0 L379.0,54.7 L380.0,54.5 L381.0,54.2 L382.0,54.0 L383.0,53.8 L384.0,53.5 L385.0,53.3 L386.0,53.1 L387.0,52.9 L388.0,52.6 L389.0,52.4 L390.0,52.2 L391.0,52.0 L392.0,51.8 L393.0,51.6 L394.0,51.4 L395.0,51.2 L396.0,51.0 L397.0,50.8 L398.0,50.6 L399.0,50.4 L400.0,50.2 L401.0,50.0 L402.0,49.8 L403.0,49.6 L404.0,49.4 L405.0,49.3 L406.0,49.1 L407.0,48.9 L408.0,48.7 L409.0,48.5 L410.0,48.4 L411.0,48.2 L412.0,48.0 L413.0,47.9 L414.0,47.7 L415.0,47.5 L416.0,47.4 L417.0,47.2 L418.0,47.0 L419.0,46.9 L420.0,46.7 L421.0,46.6 L422.0,46.4 L423.0,46.2 L424.0,46.1 L425.0,45.9 L426.0,45.8 L427.0,45.7 L428.0,45.5 L429.0,45.4 L430.0,45.2 L431.0,45.1 L432.0,44.9 L433.0,44.8 L434.0,44.7 L435.0,44.5 L436.0,44.4 L437.0,44.3 L438.0,44.1 L439.0,44.0 L440.0,43.9 L441.0,43.8 L442.0,43.6 L443.0,43.5 L444.0,43.4 L445.0,43.3 L446.0,43.1 L447.0,43.0 L448.0,42.9 L449.0,42.8 L450.0,42.7 L451.0,42.6 L452.0,42.4 L453.0,42.3 L454.0,42.2 L455.0,42.1 L456.0,42.0 L457.0,41.9 L458.0,41.8 L459.0,41.7 L460.0,41.6 L461.0,41.5 L462.0,41.4 L463.0,41.2 L464.0,41.1 L465.0,41.0 L466.0,40.9 L467.0,40.8 L468.0,40.7 L469.0,40.6 L470.0,40.5 L471.0,40.4 L472.0,40.3 L473.0,40.2 L474.0,40.1 L475.0,40.0 L476.0,39.9 L477.0,39.8 L478.0,39.7 L479.0,39.7 L480.0,39.6 L481.0,39.5 L482.0,39.4 L483.0,39.3 L484.0,39.2 L485.0,39.1 L486.0,39.0 L487.0,38.9 L488.0,38.8 L489.0,38.7 L490.0,38.6 L491.0,38.5 L492.0,38.4 L493.0,38.3 L494.0,38.3 L495.0,38.2 L496.0,38.1 L497.0,38.0 L498.0,37.9 L499.0,37.8 L500.0,37.7 L501.0,37.6 L502.0,37.5 L503.0,37.4 L504.0,37.3 L505.0,37.3 L506.0,37.2 L507.0,37.1 L508.0,37.0 L509.0,36.9 L510.0,36.8 L511.0,36.7 L512.0,36.6 L513.0,36.6 L514.0,36.5 L515.0,36.4 L516.0,36.3 L517.0,36.2 L518.0,36.1 L519.0,36.0 L520.0,36.0 L521.0,35.9 L522.0,35.8 L523.0,35.7 L524.0,35.6 L525.0,35.6 L526.0,35.5 L527.0,35.4 L528.0,35.3 L529.0,35.2 L530.0,35.2 L531.0,35.1 L532.0,35.0 L533.0,34.9 L534.0,34.8 L535.0,34.8 L536.0,34.7 L537.0,34.6 L538.0,34.5 L539.0,34.5 L540.0,34.4 L541.0,34.3 L542.0,34.2 L543.0,34.2 L544.0,34.1 L545.0,34.0 L546.0,33.9 L547.0,33.9 L548.0,33.8 L549.0,33.7 L550.0,33.7 L551.0,33.6 L552.0,33.5 L553.0,33.4 L554.0,33.4 L555.0,33.3 L556.0,33.2 L557.0,33.2 L558.0,33.1 L559.0,33.0 L560.0,33.0 L561.0,32.9 L562.0,32.8 L563.0,32.7 L564.0,32.7 L565.0,32.6 L566.0,32.5 L567.0,32.5 L568.0,32.4 L569.0,32.3 L570.0,32.3 L571.0,32.2 L572.0,32.1 L573.0,32.1 L574.0,32.0 L575.0,31.9 L576.0,31.9 L577.0,31.8 L578.0,31.8 L579.0,31.7 L580.0,31.6 L581.0,31.6 L582.0,31.5 L583.0,31.4 L584.0,31.4 L585.0,31.3 L586.0,31.2 L587.0,31.2 L588.0,31.1 L589.0,31.1 L590.0,31.0 L591.0,30.9 L592.0,30.9 L593.0,30.8 L594.0,30.8 L595.0,30.7 L596.0,30.6 L597.0,30.6 L598.0,30.5 L599.0,30.5 L600.0,30.4 L601.0,30.3 L602.0,30.3 L603.0,30.2 L604.0,30.2 L605.0,30.1 L606.0,30.0 L607.0,30.0 L608.0,29.9 L609.0,29.9 L610.0,29.8 L611.0,29.8" stroke="#00f"/><path d="M109.0,349.5 L109.5,348.5 L110.0,347.5 L110.5,346.5 L111.0,345.6 L111.5,344.8 L112.0,343.9 L112.5,342.9 L113.0,341.9 L113.5,340.9 L114.0,340.0 L114.5,339.2 L115.0,338.4 L115.5,337.6 L116.0,336.8 L116.5,335.9 L117.0,335.0 L117.5,334.2 L118.0,333.3 L118.5,332.4 L119.0,331.5 L119.5,330.7 L120.0,329.8 L120.5,329.0 L121.0,328.1 L121.5,327.3 L122.0,326.4 L122.5,325.5 L123.0,324.7 L123.5,323.9 L124.0,323.1 L124.5,322.4 L125.0,321.9 L125.5,321.3 L126.0,320.8 L126.5,320.3 L127.0,319.6 L127.5,318.8 L128.0,318.0 L128.5,317.1 L129.0,316.3 L129.5,315.5 L130.0,314.7 L130.5,314.0 L131.0,313.2 L131.5,312.5 L132.0,311.8 L132.5,311.1 L133.0,310.4 L133.5,309.7 L134.0,309.0 L134.5,308.3 L135.0,307.6 L135.5,306.9 L136.0,306.2 L136.5,305.4 L137.0,304.7 L137.5,304.0 L138.0,303.2 L138.5,302.5 L139.0,301.7 L139.5,301.0 L140.0,300.3 L140.5,299.6 L141.0,298.9 L141.5,298.2 L142.0,297.5 L142.5,296.8 L143.0,296.1 L143.5,295.4 L144.0,294.7 L144.5,294.0 L145.0,293.3 L145.5,292.6 L146.0,291.9 L146.5,291.3 L147.0,290.6 L147.5,289.9 L148.0,289.2 L148.5,288.5 L149.0,287.8 L149.5,287.1 L150.0,286.4 L150.5,285.7 L151.0,285.0 L151.5,284.3 L152.0,283.6 L152.5,282.9 L153.0,282.2 L153.5,281.5 L154.0,280.8 L154.5,280.1 L155.0,279.4 L155.5,278.8 L156.0,278.1 L156.5,277.4 L157.0,276.7 L157.5,276.0 L158.0,275.3 L158.5,274.6 L159.0,273.9 L159.5,273.2 L160.0,272.5 L160.5,271.8 L161.0,271.1 L161.5,270.4 L162.0,269.7 L162.5,269.0 L163.0,268.3 L163.5,267.6 L164.0,266.9 L164.5,266.3 L165.0,265.6 L165.5,264.9 L166.0,264.2 L166.5,263.5 L167.0,262.8 L167.5,262.1 L168.0,261.4 L168.5,260.7 L169.0,260.0 L169.5,259.3 L170.0,258.6 L170.5,257.9 L171.0,257.2 L171.5,256.5 L172.0,255.8 L172.5,255.1 L173.0,254.4 L173.5,253.8 L174.0,253.1 L174.5,252.4 L175.0,251.7 L175.5,251.0 L176.0,250.3 L176.5,249.6 L177.0,248.9 L177.5,248.2 L178.0,247.5 L178.5,246.8 L179.0,246.1 L179.5,245.4 L180.0,244.7 L180.5,244.0 L181.0,243.3 L181.5,242.6 L182.0,241.9 L182.5,241.3 L183.0,240.6 L183.5,239.9 L184.0,239.2 L184.5,238.5 L185.0,237.8 L185.5,237.1 L186.0,236.4 L186.5,235.7 L187.0,235.0 L187.5,234.3 L188.0,233.6 L188.5,232.9 L189.0,232.2 L189.5,231.5 L190.0,230.8 L190.5,230.1 L191.0,229.4 L191.5,228.8 L192.0,228.1 L192.5,227.4 L193.0,226.7 L193.5,226.0 L194.0,225.3 L194.5,224.6 L195.0,223.9 L195.5,223.2 L196.0,222.5 L196.5,221.8 L197.0,221.1 L197.5,220.4 L198.0,219.7 L198.5,219.0 L199.0,218.3 L199.5,217.6 L200.0,216.9 L200.5,216.3 L201.0,215.6 L201.5,214.9 L202.0,214.2 L202.5,213.5 L203.0,212.8 L203.5,212.1 L204.0,211.4 L204.5,210.7 L205.0,210.0 L205.5,209.3 L206.0,208.6 L206.5,207.9 L207.0,207.2 L207.5,206.5 L208.0,205.8 L208.5,205.1 L209.0,204.5 L209.5,203.8 L210.0,203.1 L210.5,202.4 L211.0,201.7 L211.5,201.0 L212.0,200.3 L212.5,199.6 L213.0,198.9 L213.5,198.2 L214.0,197.5 L214.5,196.8 L215.0,196.1 L215.5,195.4 L216.0,194.7 L216.5,194.0 L217.0,193.3 L217.5,192.7 L218.0,192.0 L218.5,191.3 L219.0,190.6 L219.5,189.9 L220.0,189.2 L220.5,188.5 L221.0,187.8 L221.5,187.1 L222.0,186.4 L222.5,185.7 L223.0,185.0 L223.5,184.3 L224.0,183.6 L224.5,182.9 L225.0,182.3 L225.5,181.6 L226.0,180.9 L226.5,180.2 L227.0,179.5 L227.5,178.8 L228.0,178.1 L228.5,177.4 L229.0,176.7 L229.5,176.0 L230.0,175.3 L230.5,174.6 L231.0,173.9 L231.5,173.2 L232.0,172.6 L232.5,171.9 L233.0,171.2 L233.5,170.5 L234.0,169.8 L234.5,169.1 L235.0,168.4 L235.5,167.7 L236.0,167.0 L236.5,166.3 L237.0,165.6 L237.5,164.9 L238.0,164.3 L238.5,163.6 L239.0,162.9 L239.5,162.2 L240.0,161.5 L240.5,160.8 L241.0,160.1 L241.5,159.4 L242.0,158.7 L242.5,158.0 L243.0,157.4 L243.5,156.7 L244.0,156.0 L244.5,155.3 L245.0,154.6 L245.5,153.9 L246.0,153.2 L246.5,152.5 L247.0,151.9 L247.5,151.2 L248.0,150.5 L248.5,149.8 L249.0,149.1 L249.5,148.4 L250.0,147.7 L250.5,147.1 L251.0,146.4 L251.5,145.7 L252.0,145.0 L252.5,144.3 L253.0,143.6 L253.5,143.0 L254.0,142.3 L254.5,141.6 L255.0,140.9 L255.5,140.3 L256.0,139.6 L256.5,138.9 L257.0,138.2 L257.5,137.5 L258.0,136.9 L258.5,136.2 L259.0,135.5 L259.5,134.9 L260.0,134.2 L260.5,133.5 L261.0,132.8 L261.5,132.2 L262.0,131.5 L262.5,130.8 L263.0,130.2 L263.5,129.5 L264.0,128.9 L264.5,128.2 L265.0,127.5 L265.5,126.9 L266.0,126.2 L266.5,125.6 L267.0,124.9 L267.5,124.3 L268.0,123.6 L268.5,123.0 L269.0,122.3 L269.5,121.7 L270.0,121.0 L270.5,120.4 L271.0,119.7 L271.5,119.1 L272.0,118.5 L272.5,117.8 L273.0,117.2 L273.5,116.6 L274.0,115.9 L274.5,115.3 L275.0,114.7 L275.5,114.1 L276.0,113.5 L276.5,112.9 L277.0,112.2 L277.5,111.6 L278.0,111.0 L278.5,110.4 L279.0,109.8 L279.5,109.2 L280.0,108.6 L280.5,108.1 L281.0,107.5 L281.5,106.9 L282.0,106.3 L282.5,105.7 L283.0,105.2 L283.5,104.6 L284.0,104.0 L284.5,103.5 L285.0,102.9 L285.5,102.4 L286.0,101.8 L286.5,101.3 L287.0,100.7 L287.5,100.2 L288.0,99.7 L288.5,99.1 L289.0,98.6 L289.5,98.1 L290.0,97.6 L290.5,97.1 L291.0,96.6 L291.5,96.1 L292.0,95.6 L292.5,95.1 L293.0,94.6 L293.5,94.1 L294.0,93.6 L294.5,93.1 L295.0,92.7 L295.5,92.2 L296.0,91.7 L296.5,91.3 L297.0,90.8 L297.5,90.4 L298.0,89.9 L298.5,89.5 L299.0,89.0 L299.5,88.6 L300.0,88.2 L300.5,87.8 L301.0,87.3 L301.5,86.9 L302.0,86.5 L302.5,86.1 L303.0,85.7 L303.5,85.3 L304.0,84.9 L304.5,84.5 L305.0,84.1 L305.5,83.8 L306.0,83.4 L306.5,83.0 L307.0,82.6 L307.5,82.3 L308.0,81.9 L308.5,81.6 L309.0,81.2 L309.5,80.9 L310.0,80.5 L310.5,80.2 L311.0,79.8 L311.5,79.5 L312.0,79.2 L312.5,78.8 L313.0,78.5 L313.5,78.2 L314.0,77.9 L314.5,77.6 L315.0,77.3 L315.5,77.0 L316.0,76.7 L316.5,76.4 L317.0,76.1 L317.5,75.8 L318.0,75.5 L318.5,75.2 L319.0,74.9 L319.5,74.6 L320.0,74.3 L320.5,74.1 L321.0,73.8 L321.5,73.5 L322.0,73.3 L322.5,73.0 L323.0,72.7 L323.5,72.5 L324.0,72.2 L324.5,72.0 L325.0,71.7 L325.5,71.5 L326.0,71.2 L326.5,71.0 L327.0,70.7 L327.5,70.5 L328.0,70.3 L328.5,70.0 L329.0,69.8 L329.5,69.6 L330.0,69.3 L331.0,68.9 L332.0,68.4 L333.0,68.0 L334.0,67.6 L335.0,67.2 L336.0,66.8 L337.0,66.4 L338.0,66.0 L339.0,65.6 L340.0,65.2 L341.0,64.8 L342.0,64.4 L343.0,64.1 L344.0,63.7 L345.0,63.4 L346.0,63.0 L347.0,62.7 L348.0,62.4 L349.0,62.0 L350.0,61.7 L351.0,61.4 L352.0,61.1 L353.0,60.8 L354.0,60.5 L355.0,60.2 L356.0,59.9 L357.0,59.6 L358.0,59.3 L359.0,59.0 L360.0,58.7 L361.0,58.4 L362.0,58.2 L363.0,57.9 L364.0,57.6 L365.0,57.4 L366.0,57.1 L367.0,56.9 L368.0,56.6 L369.0,56.4 L370.0,56.1 L371.0,55.9 L372.0,55.6 L373.0,55.4 L374.0,55.2 L375.0,54.9 L376.0,54.7 L377.0,54.5 L378.0,54.3 L379.0,54.0 L380.0,53.8 L381.0,53.6 L382.0,53.4 L383.0,53.2 L384.0,53.0 L385.0,52.8 L386.0,52.6 L387.0,52.4 L388.0,52.2 L389.0,52.0 L390.0,51.8 L391.0,51.6 L392.0,51.4 L393.0,51.2 L394.0,51.0 L395.0,50.8 L396.0,50.7 L397.0,50.5 L398.0,50.3 L399.0,50.1 L400.0,49.9 L401.0,49.8 L402.0,49.6 L403.0,49.4 L404.0,49.3 L405.0,49.1 L406.0,48.9 L407.0,48.8 L408.0,48.6 L409.0,48.4 L410.0,48.3 L411.0,48.1 L412.0,48.0 L413.0,47.8 L414.0,47.6 L415.0,47.5 L416.0,47.3 L417.0,47.2 L418.0,47.0 L419.0,46.9 L420.0,46.7 L421.0,46.6 L422.0,46.5 L423.0,46.3 L424.0,46.2 L425.0,46.0 L426.0,45.9 L427.0,45.8 L428.0,45.6 L429.0,45.5 L430.0,45.4 L431.0,45.3 L432.0,45.1 L433.0,45.0 L434.0,44.9 L435.0,44.8 L436.0,44.7 L437.0,44.5 L438.0,44.4 L439.0,44.3 L440.0,44.2 L441.0,44.1 L442.0,44.0 L443.0,43.9 L444.0,43.8 L445.0,43.7 L446.0,43.6 L447.0,43.5 L448.0,43.4 L449.0,43.3 L450.0,43.2 L451.0,43.1 L452.0,43.0 L453.0,42.9 L454.0,42.8 L455.0,42.7 L456.0,42.6 L457.0,42.5 L458.0,42.5 L459.0,42.4 L460.0,42.3 L461.0,42.2 L462.0,42.1 L463.0,42.0 L464.0,41.9 L465.0,41.8 L466.0,41.8 L467.0,41.7 L468.0,41.6 L469.0,41.5 L470.0,41.4 L471.0,41.3 L472.0,41.3 L473.0,41.2 L474.0,41.1 L475.0,41.0 L476.0,40.9 L477.0,40.9 L478.0,40.8 L479.0,40.7 L480.0,40.6 L481.0,40.5 L482.0,40.5 L483.0,40.4 L484.0,40.3 L485.0,40.2 L486.0,40.1 L487.0,40.1 L488.0,40.0 L489.0,39.9 L490.0,39.8 L491.0,39.7 L492.0,39.6 L493.0,39.6 L494.0,39.5 L495.0,39.4 L496.0,39.3 L497.0,39.2 L498.0,39.1 L499.0,39.0 L500.0,39.0 L501.0,38.9 L502.0,38.8 L503.0,38.7 L504.0,38.6 L505.0,38.5 L506.0,38.4 L507.0,38.4 L508.0,38.3 L509.0,38.2 L510.0,38.1 L511.0,38.0 L512.0,37.9 L513.0,37.9 L514.0,37.8 L515.0,37.7 L516.0,37.6 L517.0,37.5 L518.0,37.5 L519.0,37.4 L520.0,37.3 L521.0,37.2 L522.0,37.1 L523.0,37.1 L524.0,37.0 L525.0,36.9 L526.0,36.8 L527.0,36.7 L528.0,36.7 L529.0,36.6 L530.0,36.5 L531.0,36.4 L532.0,36.4 L533.0,36.3 L534.0,36.2 L535.0,36.1 L536.0,36.1 L537.0,36.0 L538.0,35.9 L539.0,35.8 L540.0,35.8 L541.0,35.7 L542.0,35.6 L543.0,35.6 L544.0,35.5 L545.0,35.4 L546.0,35.3 L547.0,35.3 L548.0,35.2 L549.0,35.1 L550.0,35.1 L551.0,35.0 L552.0,34.9 L553.0,34.9 L554.0,34.8 L555.0,34.7 L556.0,34.7 L557.0,34.6 L558.0,34.5 L559.0,34.4 L560.0,34.4 L561.0,34.3 L562.0,34.2 L563.0,34.2 L564.0,34.1 L565.0,34.1 L566.0,34.0 L567.0,33.9 L568.0,33.9 L569.0,33.8 L570.0,33.7 L571.0,33.7 L572.0,33.6 L573.0,33.5 L574.0,33.5 L575.0,33.4 L576.0,33.3 L577.0,33.3 L578.0,33.2 L579.0,33.2 L580.0,33.1 L581.0,33.0 L582.0,33.0 L583.0,32.9 L584.0,32.8 L585.0,32.8 L586.0,32.7 L587.0,32.7 L588.0,32.6 L589.0,32.5 L590.0,32.5 L591.0,32.4 L592.0,32.4 L593.0,32.3 L594.0,32.3 L595.0,32.2 L596.0,32.1 L597.0,32.1 L598.0,32.0 L599.0,32.0 L600.0,31.9 L601.0,31.8 L602.0,31.8 L603.0,31.7 L604.0,31.7 L605.0,31.6 L606.0,31.6 L607.0,31.5 L608.0,31.4 L609.0,31.4 L610.0,31.3 L611.0,31.3" stroke="#f0f"/></g>
<g stroke="#6e6e6e" stroke-width="1.6"><line x1="108.5" y1="409.5" x2="115.5" y2="409.5"/><line x1="108.5" y1="398.4" x2="112.5" y2="398.4"/><line x1="108.5" y1="391.9" x2="112.5" y2="391.9"/><line x1="108.5" y1="387.3" x2="112.5" y2="387.3"/><line x1="108.5" y1="383.8" x2="112.5" y2="383.8"/><line x1="108.5" y1="380.8" x2="112.5" y2="380.8"/><line x1="108.5" y1="378.4" x2="112.5" y2="378.4"/><line x1="108.5" y1="376.2" x2="112.5" y2="376.2"/><line x1="108.5" y1="374.4" x2="112.5" y2="374.4"/><line x1="108.5" y1="372.7" x2="115.5" y2="372.7"/><line x1="108.5" y1="361.6" x2="112.5" y2="361.6"/><line x1="108.5" y1="355.1" x2="112.5" y2="355.1"/><line x1="108.5" y1="350.5" x2="112.5" y2="350.5"/><line x1="108.5" y1="346.9" x2="112.5" y2="346.9"/><line x1="108.5" y1="344.0" x2="112.5" y2="344.0"/><line x1="108.5" y1="341.6" x2="112.5" y2="341.6"/><line x1="108.5" y1="339.4" x2="112.5" y2="339.4"/><line x1="108.5" y1="337.5" x2="112.5" y2="337.5"/><line x1="108.5" y1="335.9" x2="115.5" y2="335.9"/><line x1="108.5" y1="324.8" x2="112.5" y2="324.8"/><line x1="108.5" y1="318.3" x2="112.5" y2="318.3"/><line x1="108.5" y1="313.7" x2="112.5" y2="313.7"/><line x1="108.5" y1="310.1" x2="112.5" y2="310.1"/><line x1="108.5" y1="307.2" x2="112.5" y2="307.2"/><line x1="108.5" y1="304.7" x2="112.5" y2="304.7"/><line x1="108.5" y1="302.6" x2="112.5" y2="302.6"/><line x1="108.5" y1="300.7" x2="112.5" y2="300.7"/><line x1="108.5" y1="299.0" x2="115.5" y2="299.0"/><line x1="108.5" y1="288.0" x2="112.5" y2="288.0"/><line x1="108.5" y1="281.5" x2="112.5" y2="281.5"/><line x1="108.5" y1="276.9" x2="112.5" y2="276.9"/><line x1="108.5" y1="273.3" x2="112.5" y2="273.3"/><line x1="108.5" y1="270.4" x2="112.5" y2="270.4"/><line x1="108.5" y1="267.9" x2="112.5" y2="267.9"/><line x1="108.5" y1="265.8" x2="112.5" y2="265.8"/><line x1="108.5" y1="263.9" x2="112.5" y2="263.9"/><line x1="108.5" y1="262.2" x2="115.5" y2="262.2"/><line x1="108.5" y1="251.1" x2="112.5" y2="251.1"/><line x1="108.5" y1="244.7" x2="112.5" y2="244.7"/><line x1="108.5" y1="240.1" x2="112.5" y2="240.1"/><line x1="108.5" y1="236.5" x2="112.5" y2="236.5"/><line x1="108.5" y1="233.6" x2="112.5" y2="233.6"/><line x1="108.5" y1="231.1" x2="112.5" y2="231.1"/><line x1="108.5" y1="229.0" x2="112.5" y2="229.0"/><line x1="108.5" y1="227.1" x2="112.5" y2="227.1"/><line x1="108.5" y1="225.4" x2="115.5" y2="225.4"/><line x1="108.5" y1="214.3" x2="112.5" y2="214.3"/><line x1="108.5" y1="207.8" x2="112.5" y2="207.8"/><line x1="108.5" y1="203.2" x2="112.5" y2="203.2"/><line x1="108.5" y1="199.7" x2="112.5" y2="199.7"/><line x1="108.5" y1="196.8" x2="112.5" y2="196.8"/><line x1="108.5" y1="194.3" x2="112.5" y2="194.3"/><line x1="108.5" y1="192.2" x2="112.5" y2="192.2"/><line x1="108.5" y1="190.3" x2="112.5" y2="190.3"/><line x1="108.5" y1="188.6" x2="115.5" y2="188.6"/><line x1="108.5" y1="177.5" x2="112.5" y2="177.5"/><line x1="108.5" y1="171.0" x2="112.5" y2="171.0"/><line x1="108.5" y1="166.4" x2="112.5" y2="166.4"/><line x1="108.5" y1="162.9" x2="112.5" y2="162.9"/><line x1="108.5" y1="159.9" x2="112.5" y2="159.9"/><line x1="108.5" y1="157.5" x2="112.5" y2="157.5"/><line x1="108.5" y1="155.3" x2="112.5" y2="155.3"/><line x1="108.5" y1="153.5" x2="112.5" y2="153.5"/><line x1="108.5" y1="151.8" x2="115.5" y2="151.8"/><line x1="108.5" y1="140.7" x2="112.5" y2="140.7"/><line x1="108.5" y1="134.2" x2="112.5" y2="134.2"/><line x1="108.5" y1="129.6" x2="112.5" y2="129.6"/><line x1="108.5" y1="126.0" x2="112.5" y2="126.0"/><line x1="108.5" y1="123.1" x2="112.5" y2="123.1"/><line x1="108.5" y1="120.7" x2="112.5" y2="120.7"/><line x1="108.5" y1="118.5" x2="112.5" y2="118.5"/><line x1="108.5" y1="116.6" x2="112.5" y2="116.6"/><line x1="108.5" y1="115.0" x2="115.5" y2="115.0"/><line x1="108.5" y1="103.9" x2="112.5" y2="103.9"/><line x1="108.5" y1="97.4" x2="112.5" y2="97.4"/><line x1="108.5" y1="92.8" x2="112.5" y2="92.8"/><line x1="108.5" y1="89.2" x2="112.5" y2="89.2"/><line x1="108.5" y1="86.3" x2="112.5" y2="86.3"/><line x1="108.5" y1="83.8" x2="112.5" y2="83.8"/><line x1="108.5" y1="81.7" x2="112.5" y2="81.7"/><line x1="108.5" y1="79.8" x2="112.5" y2="79.8"/><line x1="108.5" y1="78.1" x2="115.5" y2="78.1"/><line x1="108.5" y1="67.1" x2="112.5" y2="67.1"/><line x1="108.5" y1="60.6" x2="112.5" y2="60.6"/><line x1="108.5" y1="56.0" x2="112.5" y2="56.0"/><line x1="108.5" y1="52.4" x2="112.5" y2="52.4"/><line x1="108.5" y1="49.5" x2="112.5" y2="49.5"/><line x1="108.5" y1="47.0" x2="112.5" y2="47.0"/><line x1="108.5" y1="44.9" x2="112.5" y2="44.9"/><line x1="108.5" y1="43.0" x2="112.5" y2="43.0"/><line x1="108.5" y1="41.3" x2="115.5" y2="41.3"/><line x1="108.5" y1="30.2" x2="112.5" y2="30.2"/><line x1="108.5" y1="23.8" x2="112.5" y2="23.8"/><line x1="108.5" y1="19.2" x2="112.5" y2="19.2"/><line x1="108.5" y1="15.6" x2="112.5" y2="15.6"/><line x1="108.5" y1="12.7" x2="112.5" y2="12.7"/><line x1="108.5" y1="10.2" x2="112.5" y2="10.2"/><line x1="108.5" y1="8.1" x2="112.5" y2="8.1"/><line x1="108.5" y1="6.2" x2="112.5" y2="6.2"/><line x1="108.5" y1="409.5" x2="108.5" y2="402.5"/><line x1="191.4" y1="409.5" x2="191.4" y2="405.5"/><line x1="274.3" y1="409.5" x2="274.3" y2="402.5"/><line x1="357.2" y1="409.5" x2="357.2" y2="405.5"/><line x1="440.2" y1="409.5" x2="440.2" y2="402.5"/><line x1="523.1" y1="409.5" x2="523.1" y2="405.5"/><line x1="606.0" y1="409.5" x2="606.0" y2="402.5"/><line x1="776.4" y1="410.5" x2="776.4" y2="403.5"/><line x1="814.9" y1="410.5" x2="814.9" y2="406.5"/><line x1="853.4" y1="410.5" x2="853.4" y2="403.5"/><line x1="891.8" y1="410.5" x2="891.8" y2="406.5"/><line x1="930.3" y1="410.5" x2="930.3" y2="403.5"/><line x1="968.8" y1="410.5" x2="968.8" y2="406.5"/><line x1="1007.3" y1="410.5" x2="1007.3" y2="403.5"/><line x1="1045.7" y1="410.5" x2="1045.7" y2="406.5"/><line x1="1084.2" y1="410.5" x2="1084.2" y2="403.5"/><line x1="1122.7" y1="410.5" x2="1122.7" y2="406.5"/><line x1="1161.2" y1="410.5" x2="1161.2" y2="403.5"/><line x1="1199.6" y1="410.5" x2="1199.6" y2="406.5"/><line x1="1238.1" y1="410.5" x2="1238.1" y2="403.5"/><line x1="1276.6" y1="410.5" x2="1276.6" y2="406.5"/><line x1="776.4" y1="410.5" x2="783.4" y2="410.5"/><line x1="776.4" y1="379.3" x2="780.4" y2="379.3"/><line x1="776.4" y1="348.0" x2="783.4" y2="348.0"/><line x1="776.4" y1="316.8" x2="780.4" y2="316.8"/><line x1="776.4" y1="285.6" x2="783.4" y2="285.6"/><line x1="776.4" y1="254.3" x2="780.4" y2="254.3"/><line x1="776.4" y1="223.1" x2="783.4" y2="223.1"/><line x1="776.4" y1="191.9" x2="780.4" y2="191.9"/><line x1="776.4" y1="160.7" x2="783.4" y2="160.7"/><line x1="776.4" y1="129.4" x2="780.4" y2="129.4"/><line x1="776.4" y1="98.2" x2="783.4" y2="98.2"/><line x1="776.4" y1="67.0" x2="780.4" y2="67.0"/><line x1="776.4" y1="35.7" x2="783.4" y2="35.7"/><line x1="776.4" y1="4.5" x2="780.4" y2="4.5"/></g>
<rect x="108.5" y="4.5" width="497.5" height="405.0" fill="none" stroke="#6e6e6e" stroke-width="2"/>
<rect x="776.4" y="4.5" width="500.19999999999993" height="406.0" fill="none" stroke="#6e6e6e" stroke-width="2"/>
<line x1="779.5" y1="4.5" x2="1265.5" y2="410.5" stroke="#f00" stroke-width="4.5" clip-path="url(#cb)"/>
<g fill="#000"><rect x="814.2" y="38.0" width="13.5" height="13.5"/><rect x="889.9" y="97.5" width="13.5" height="13.5"/><rect x="975.0" y="160.8" width="13.5" height="13.5"/><rect x="1074.5" y="237.2" width="13.5" height="13.5"/><rect x="1200.5" y="366.1" width="13.5" height="13.5"/></g>
<g font-size="29"><text x="100.0" y="52.3" text-anchor="end" letter-spacing="1.00">10<tspan dy="-15.5" font-size="16.5" letter-spacing="0.6">2</tspan></text><text x="100.0" y="126.0" text-anchor="end" letter-spacing="1.00">10<tspan dy="-15.5" font-size="16.5" letter-spacing="0.6">0</tspan></text><text x="100.0" y="199.6" text-anchor="end" letter-spacing="1.00">10<tspan dy="-15.5" font-size="16.5" letter-spacing="0.6">-2</tspan></text><text x="100.0" y="273.2" text-anchor="end" letter-spacing="1.00">10<tspan dy="-15.5" font-size="16.5" letter-spacing="0.6">-4</tspan></text><text x="100.0" y="346.9" text-anchor="end" letter-spacing="1.00">10<tspan dy="-15.5" font-size="16.5" letter-spacing="0.6">-6</tspan></text><text x="100.0" y="420.5" text-anchor="end" letter-spacing="1.00">10<tspan dy="-15.5" font-size="16.5" letter-spacing="0.6">-8</tspan></text><text x="107.5" y="440.5" text-anchor="middle" letter-spacing="1.00">0.0</text><text x="273.3" y="440.5" text-anchor="middle" letter-spacing="1.00">0.5</text><text x="439.2" y="440.5" text-anchor="middle" letter-spacing="1.00">1.0</text><text x="605.0" y="440.5" text-anchor="middle" letter-spacing="1.00">1.5</text><text x="768.0" y="42.6" text-anchor="end" letter-spacing="1.00">-26</text><text x="768.0" y="105.1" text-anchor="end" letter-spacing="1.00">-28</text><text x="768.0" y="167.6" text-anchor="end" letter-spacing="1.00">-30</text><text x="768.0" y="230.0" text-anchor="end" letter-spacing="1.00">-32</text><text x="768.0" y="292.5" text-anchor="end" letter-spacing="1.00">-34</text><text x="768.0" y="354.9" text-anchor="end" letter-spacing="1.00">-36</text><text x="768.0" y="417.4" text-anchor="end" letter-spacing="1.00">-38</text><text x="775.4" y="441.6" text-anchor="middle" letter-spacing="1.00">28</text><text x="852.4" y="441.6" text-anchor="middle" letter-spacing="1.00">30</text><text x="929.3" y="441.6" text-anchor="middle" letter-spacing="1.00">32</text><text x="1006.3" y="441.6" text-anchor="middle" letter-spacing="1.00">34</text><text x="1083.2" y="441.6" text-anchor="middle" letter-spacing="1.00">36</text><text x="1160.2" y="441.6" text-anchor="middle" letter-spacing="1.00">38</text><text x="1237.1" y="441.6" text-anchor="middle" letter-spacing="1.00">40</text></g>
<g><line x1="453" y1="73.1" x2="498" y2="73.1" stroke="#000" stroke-width="3.2"/><line x1="453" y1="104.4" x2="498" y2="104.4" stroke="#f00" stroke-width="3.2"/><line x1="453" y1="135.7" x2="498" y2="135.7" stroke="#0f0" stroke-width="3.2"/><line x1="453" y1="166.6" x2="498" y2="166.6" stroke="#00f" stroke-width="3.2"/><line x1="453" y1="197.6" x2="498" y2="197.6" stroke="#f0f" stroke-width="3.2"/></g><g><text x="503.5" y="80.1" font-size="25.5" letter-spacing="0.00">25°C</text><text x="503.5" y="111.4" font-size="25.5" letter-spacing="0.00">50°C</text><text x="503.5" y="142.7" font-size="25.5" letter-spacing="0.00">75°C</text><text x="503.5" y="173.6" font-size="25.5" letter-spacing="0.00">100°C</text><text x="511.0" y="204.6" font-size="25.5" letter-spacing="0.00">125°C</text></g>
<text x="138" y="42.5" font-size="26" font-weight="bold">(a)</text>
<text x="901" y="43.5" font-size="26" font-weight="bold">(b)</text>
<text x="298.8" y="476.8" font-size="31.0" letter-spacing="1.5">Voltage (V)</text>
<text x="969.2" y="476.4" font-size="31.0" letter-spacing="1.5">1/kT (1/eV)</text>
<text transform="translate(36.6,388.8) rotate(-90)" font-size="31.0" letter-spacing="1.19">Current Density (A/cm<tspan dy="-17" font-size="20">2</tspan><tspan dy="17">)</tspan></text>
<text transform="translate(707.0,273.0) rotate(-90)" font-size="31.0" letter-spacing="1.4">ln(J<tspan dy="11" font-size="15">0</tspan><tspan dy="-11">/T</tspan><tspan dy="-16" font-size="18">2</tspan><tspan dy="16">)</tspan></text>
<g font-size="22">
<text x="800" y="350">A</text>
<circle cx="819.3" cy="337.2" r="2.4" fill="#1a1a1a"/><circle cx="828.3" cy="337.2" r="2.4" fill="#1a1a1a"/>
<text x="838.6" y="350">=</text>
<text x="857.6" y="350" textLength="53" lengthAdjust="spacingAndGlyphs">48.06</text>
<text x="917.8" y="350" textLength="50" lengthAdjust="spacingAndGlyphs">A/cm</text>
<text x="967.4" y="341" font-size="13">2</text>
<text x="976.5" y="350" textLength="15.5" lengthAdjust="spacingAndGlyphs">K</text>
<text x="993.8" y="341" font-size="13">2</text>
<text x="799.6" y="377">q</text>
<text x="812.4" y="377" style="fill:#3a3a3a">&#981;</text>
<text x="823" y="386" font-size="12" style="fill:#8a8a8a" font-style="italic">&#946;,0</text>
<text x="838.6" y="377">=</text>
<text x="857.4" y="377">1.12</text>
<text x="906" y="377">eV</text>
</g>
</svg>
</body></html>
